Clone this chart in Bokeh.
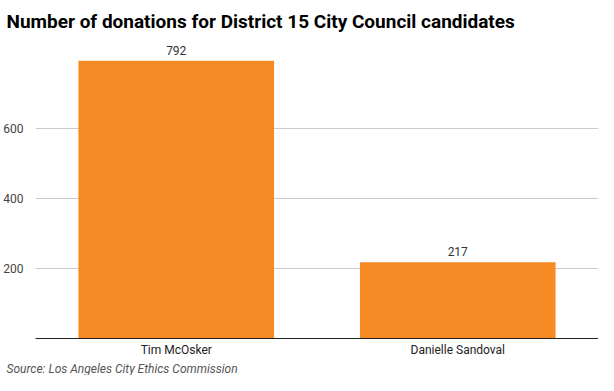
from bokeh.plotting import figure
from bokeh.models import ColumnDataSource, FixedTicker, LabelSet, Title, Range1d, FactorRange
from bokeh.core.properties import value
from bokeh.embed import file_html
from bokeh.resources import INLINE

candidates = ["Tim McOsker", "Danielle Sandoval"]
donations = [792, 217]
y_ticks = [200, 400, 600]
title_text = "Number of donations for District 15 City Council candidates"
source_text = "Source: Los Angeles City Ethics Commission"

src = ColumnDataSource(dict(x=candidates, y=donations, label=[str(v) for v in donations]))

p = figure(x_range=FactorRange(*candidates), y_range=Range1d(0, 858),
           width=598, height=375, output_backend="svg", toolbar_location=None,
           min_border_left=0, min_border_right=0, min_border_top=37, min_border_bottom=0)
p.outline_line_color = None
p.background_fill_color = "white"

p.vbar(x="x", top="y", width=0.695, source=src, fill_color="#f68b26", line_color=None)

labels = LabelSet(x="x", y="y", text="label", source=src, text_align="center",
                  text_baseline="bottom", y_offset=6, text_font_size="12px",
                  text_color="#333333", text_font=value("Roboto"))
p.add_layout(labels)

# y axis
p.yaxis.ticker = FixedTicker(ticks=y_ticks)
p.yaxis.axis_line_color = None
p.yaxis.major_tick_line_color = None
p.yaxis.minor_tick_line_color = None
p.yaxis.major_label_text_font = "Roboto"
p.yaxis.major_label_text_font_size = "12px"
p.yaxis.major_label_text_color = "#444444"
p.yaxis.major_label_standoff = 6
p.ygrid.ticker = FixedTicker(ticks=y_ticks)
p.ygrid.grid_line_color = "#cccccc"
p.xgrid.grid_line_color = None

# x axis
p.xaxis.axis_line_color = "#222222"
p.xaxis.axis_line_width = 1
p.xaxis.major_tick_line_color = None
p.xaxis.minor_tick_line_color = None
p.xaxis.major_tick_out = 0
p.xaxis.major_tick_in = 0
p.xaxis.major_label_text_font = "Roboto"
p.xaxis.major_label_text_font_size = "12px"
p.xaxis.major_label_text_color = "#222222"
p.xaxis.major_label_standoff = 4

p.title = None
p.add_layout(Title(text=source_text, text_font="Roboto", text_font_style="italic",
                   text_font_size="12px", text_color="#555555", align="left",
                   offset=-29, standoff=0), "below")
p.add_layout(Title(text=title_text, text_font="Roboto", text_font_style="bold",
                   text_font_size="19px", text_color="#000000", align="left",
                   offset=-29, standoff=10), "above")

open("out.html", "w").write(file_html(p, INLINE))
